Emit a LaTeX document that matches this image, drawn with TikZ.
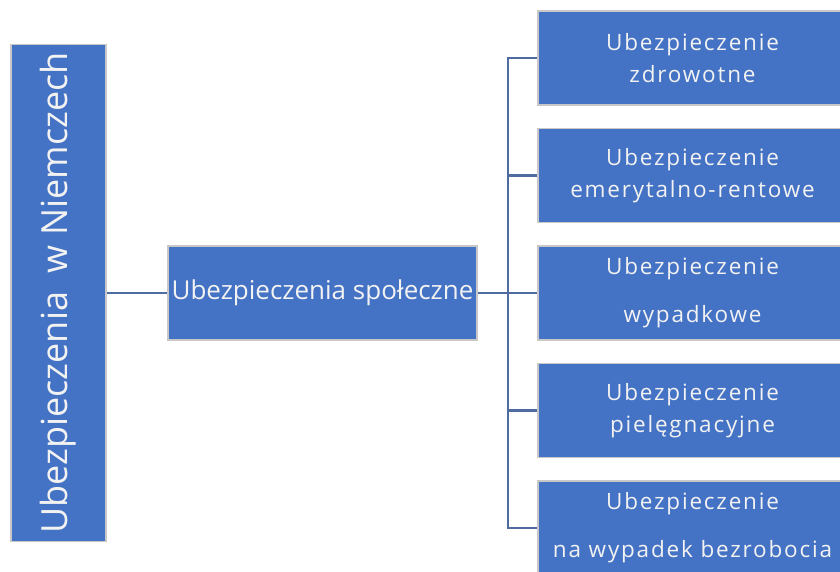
\documentclass[tikz,border=0pt]{standalone}
\usepackage{fontspec}
\setmainfont{Open Sans}
\newfontfamily\spacedfont[LetterSpace=8]{Open Sans}
\usetikzlibrary{calc}

\definecolor{boxblue}{RGB}{68,114,196}
\definecolor{boxrim}{RGB}{200,200,200}
\definecolor{linkblue}{RGB}{78,108,160}
\definecolor{boxtext}{RGB}{242,242,242}

\tikzset{
    box/.style={draw=boxrim, line width=1.5pt, fill=boxblue, text=boxtext,
        inner sep=0pt, align=center},
    kind/.style={box, minimum width=309pt, minimum height=94pt,
        font=\spacedfont\fontsize{22.5}{32}\selectfont},
    link/.style={draw=linkblue, line width=2.5pt}
}

\begin{document}
\begin{tikzpicture}[x=1pt, y=-1pt]
    \useasboundingbox (0,0) rectangle (840,572);
    \clip (0,0) rectangle (840,572);

    % root
    \node[box, rotate=90, minimum width=497pt, minimum height=95pt,
        font=\fontsize{36}{40}\selectfont] (root) at (58.5,293)
    {Ubezpieczenia\ \ w Niemczech};

    % social insurance
    \node[box, minimum width=309pt, minimum height=94pt,
        font=\fontsize{26}{30}\selectfont] (social) at (322.5,293)
    {Ubezpieczenia społeczne};

    % branches
    \node[kind] (health) at (692.5,58)
    {Ubezpieczenie\\zdrowotne};
    \node[kind] (pension) at ($(health) + (0,117.5)$)
    {Ubezpieczenie\\emerytalno-rentowe};
    \node[kind] (accident) at ($(pension) + (0,117.5)$)
    {Ubezpieczenie\\[16pt]wypadkowe};
    \node[kind] (care) at ($(accident) + (0,117.5)$)
    {Ubezpieczenie\\pielęgnacyjne};
    \node[kind] (jobless) at ($(care) + (0,117.5)$)
    {Ubezpieczenie\\[16pt]na wypadek bezrobocia};

    % connectors
    \coordinate (bus) at ($(social.east) + (30,0)$);
    \draw[link] (root) -- (social);
    \draw[link] (social.east) -- (bus);
    \foreach \b in {health,pension,accident,care,jobless}
        \draw[link] (bus) |- (\b.west);

\end{tikzpicture}
\end{document}
